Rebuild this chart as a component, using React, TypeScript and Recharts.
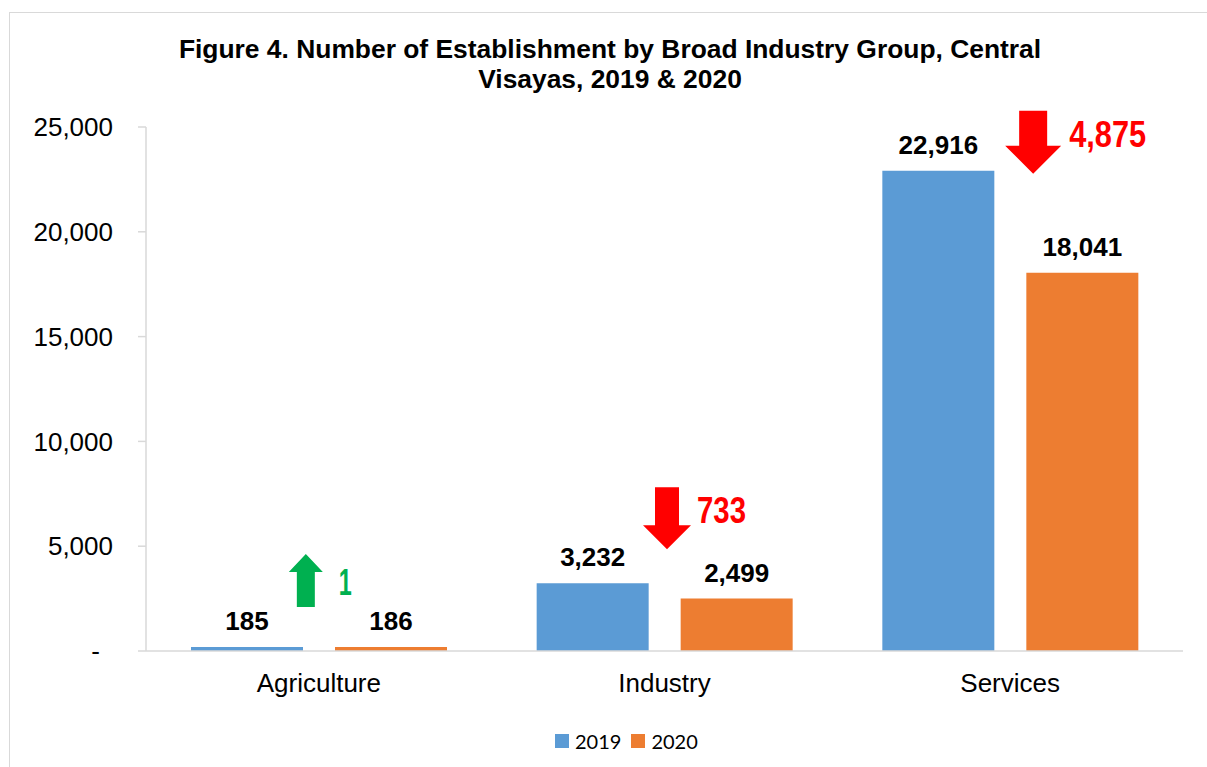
import { BarChart, Bar, XAxis, YAxis, LabelList, ReferenceDot } from "recharts";

const categories = ["Agriculture", "Industry", "Services"];
const values2019 = [185, 3232, 22916];
const values2020 = [186, 2499, 18041];
const changes = [1, -733, -4875];
const seriesNames = ["2019", "2020"];
const yTicks = [0, 5000, 10000, 15000, 20000, 25000];

const BLUE = "#5B9BD5";
const ORANGE = "#ED7D31";
const AXIS = "#D9D9D9";
const FONT = "'Liberation Sans', Arial, sans-serif";

const data = categories.map((name, i) => ({
  name,
  y2019: values2019[i],
  y2020: values2020[i],
}));

// pixel layout for the change arrows, relative to category centre / 2019 bar top
const arrowStyle = [
  { dx: -13, tip: -40, h: 53, hh: 18, hw: 34, sw: 18, textDx: 33, textW: 13 },
  { dx: 2.5, tip: -34, h: 62, hh: 24, hw: 48, sw: 24, textDx: 30, textW: 49 },
  { dx: 23, tip: 3, h: 63, hh: 28, hw: 56, sw: 28, textDx: 36, textW: 77 },
];

const fmt = (v: number) => v.toLocaleString("en-US");

function ChangeArrow(props: any) {
  const { cx, cy, index } = props;
  const s = arrowStyle[index];
  const value = changes[index];
  const up = value > 0;
  const color = up ? "#00B050" : "#FF0000";
  const x = cx + s.dx;
  let pts: string;
  let top: number;
  if (up) {
    const bottom = cy + s.tip;
    top = bottom - s.h;
    pts = [
      [x, top],
      [x + s.hw / 2, top + s.hh],
      [x + s.sw / 2, top + s.hh],
      [x + s.sw / 2, bottom],
      [x - s.sw / 2, bottom],
      [x - s.sw / 2, top + s.hh],
      [x - s.hw / 2, top + s.hh],
    ]
      .map((p) => p.join(","))
      .join(" ");
  } else {
    const tipY = cy + s.tip;
    top = tipY - s.h;
    pts = [
      [x - s.sw / 2, top],
      [x + s.sw / 2, top],
      [x + s.sw / 2, tipY - s.hh],
      [x + s.hw / 2, tipY - s.hh],
      [x, tipY],
      [x - s.hw / 2, tipY - s.hh],
      [x - s.sw / 2, tipY - s.hh],
    ]
      .map((p) => p.join(","))
      .join(" ");
  }
  const textY = up ? top + s.h / 2 + 14 : top + 36;
  return (
    <g>
      <polygon points={pts} fill={color} />
      <text
        x={x + s.textDx}
        y={textY}
        fill={color}
        fontSize={36}
        fontWeight="bold"
        fontFamily="'Liberation Sans Narrow', 'Arial Narrow', 'Liberation Sans', Arial"
        textLength={s.textW}
        lengthAdjust="spacingAndGlyphs"
      >
        {fmt(Math.abs(value))}
      </text>
    </g>
  );
}

function YTick(props: any) {
  const { x, y, payload } = props;
  const v = payload.value as number;
  return (
    <text
      x={v === 0 ? x - 13 : x}
      y={y}
      dy="0.355em"
      textAnchor="end"
      fill="#000"
      fontSize={26}
      fontFamily={FONT}
    >
      {v === 0 ? "-" : fmt(v)}
    </text>
  );
}

export default function App() {
  return (
    <div
      style={{
        position: "absolute",
        left: 0,
        top: 0,
        width: 1207,
        height: 767,
        overflow: "hidden",
        background: "#fff",
      }}
    >
      <div
        style={{
          position: "absolute",
          left: 9,
          top: 12,
          width: 1230,
          height: 800,
          border: `1px solid ${AXIS}`,
        }}
      />
      <div
        style={{
          position: "absolute",
          left: 0,
          top: 34,
          width: 1220,
          textAlign: "center",
          fontFamily: FONT,
          fontWeight: "bold",
          fontSize: 26.4,
          lineHeight: "30px",
          color: "#000",
        }}
      >
        Figure 4. Number of Establishment by Broad Industry Group, Central
        <br />
        Visayas, 2019 &amp; 2020
      </div>
      <div style={{ position: "absolute", left: 0, top: 0 }}>
        <BarChart
          width={1207}
          height={767}
          data={data}
          margin={{ top: 127, right: 24, bottom: 76, left: 0 }}
          barCategoryGap={45}
          barGap={32}
        >
          <XAxis
            dataKey="name"
            axisLine={{ stroke: AXIS, strokeWidth: 1.5 }}
            tickLine={false}
            tickMargin={17}
            height={40}
            tick={{ fill: "#000", fontSize: 26, fontFamily: FONT }}
          />
          <YAxis
            width={146}
            domain={[0, 25000]}
            ticks={yTicks}
            axisLine={{ stroke: AXIS, strokeWidth: 1.5 }}
            tickLine={{ stroke: AXIS, strokeWidth: 1.5 }}
            tickSize={8}
            tickMargin={25}
            tick={<YTick />}
          />
          <Bar dataKey="y2019" fill={BLUE} isAnimationActive={false}>
            <LabelList
              dataKey="y2019"
              position="top"
              offset={17}
              formatter={(v: any) => fmt(Number(v))}
              style={{ fontSize: 26, fontWeight: "bold", fontFamily: FONT, fill: "#000" }}
            />
          </Bar>
          <Bar dataKey="y2020" fill={ORANGE} isAnimationActive={false}>
            <LabelList
              dataKey="y2020"
              position="top"
              offset={17}
              formatter={(v: any) => fmt(Number(v))}
              style={{ fontSize: 26, fontWeight: "bold", fontFamily: FONT, fill: "#000" }}
            />
          </Bar>
          {categories.map((c, i) => (
            <ReferenceDot
              key={c}
              x={c}
              y={values2019[i]}
              r={0}
              ifOverflow="visible"
              shape={(p: any) => <ChangeArrow {...p} index={i} />}
            />
          ))}
        </BarChart>
      </div>
      <div
        style={{
          position: "absolute",
          left: 555,
          top: 729,
          display: "flex",
          alignItems: "center",
          fontFamily: "Lato, 'Open Sans', sans-serif",
          fontSize: 20,
          color: "#000",
        }}
      >
        {seriesNames.map((n, i) => (
          <div key={n} style={{ display: "flex", alignItems: "center", marginRight: 10 }}>
            <div
              style={{
                width: 14,
                height: 14,
                background: i === 0 ? BLUE : ORANGE,
                marginRight: 6,
              }}
            />
            <span>{n}</span>
          </div>
        ))}
      </div>
    </div>
  );
}
